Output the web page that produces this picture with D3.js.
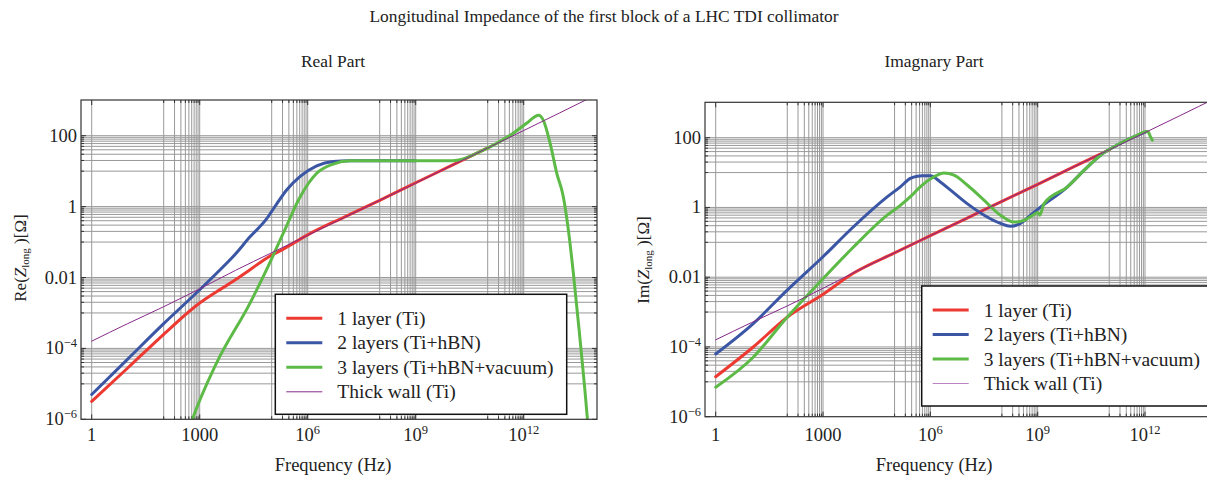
<!DOCTYPE html>
<html><head><meta charset="utf-8">
<script src="https://cdn.jsdelivr.net/npm/d3@7"></script>
<style>
body{margin:0;background:#fff;overflow:hidden}
text{font-family:"Liberation Serif","Times New Roman",serif;fill:#222}
</style>
</head><body>
<svg id="chart" width="1207" height="479"></svg>
<script>
// ---------------- DATA ----------------
const chartTitle = "Longitudinal Impedance of the first block of a LHC TDI collimator";
const panelTitles = ["Real Part", "Imagnary Part"];
const seriesNames = ["1 layer (Ti)", "2 layers (Ti+hBN)", "3 layers (Ti+hBN+vacuum)", "Thick wall (Ti)"];
const xTickValues = [1, 1e3, 1e6, 1e9, 1e12];
const xTickLabels = ["1", "1000", "10^6", "10^9", "10^12"];
const yTickValues = [1e-6, 1e-4, 0.01, 1, 100];
const yTickLabels = ["10^−6", "10^−4", "0.01", "1", "100"];
const xLabel = "Frequency (Hz)";

// [frequency Hz, impedance Ohm]
const thickWall = [[1,1.6e-4],[10,5e-4],[100,1.5e-3],[1e3,4.8e-3],[1e4,0.016],[1e5,0.05],[1e6,0.155],[1e7,0.48],[1e8,1.5],[1e9,4.6],[1e10,14.5],[1e11,45],[1e12,140],[1e13,440],[1e14,1400]];

const reOneLayer = [[1,3.2e-6],[10,2.8e-5],[100,2.5e-4],[1e3,1.9e-3],[3000,4e-3],[8500,7.8e-3],[25000,0.0166],[72000,0.035],[2.1e5,0.063],[1e6,0.16],[1e7,0.5],[1e8,1.5],[1e9,4.7],[1e10,14.5],[1e11,45]];
const reTwoLayers = [[1,5e-6],[10,5e-5],[100,5e-4],[1e3,4.5e-3],[2950,0.0132],[8500,0.039],[25000,0.14],[72000,0.45],[1.38e5,1.2],[2.6e5,2.95],[6.2e5,7.1],[1.78e6,14.1],[5.1e6,18.6],[1.5e7,19.5],[1e9,19.5]];
const reThreeLayers = [[500,5e-7],[630,1e-6],[2950,3.9e-5],[25000,1.9e-3],[72000,0.0166],[2.1e5,0.178],[6.2e5,1.9],[1.78e6,8.7],[5.1e6,15.8],[1.5e7,19.5],[1e10,19.5],[1.7e10,20.9],[6.2e10,35.5],[5.1e11,117],[1.2e12,224],[2.6e12,380],[3.5e12,275],[5.4e12,62],[8.3e12,8.7],[1.26e13,1.9],[1.74e13,0.22],[2.4e13,0.013],[3.6e13,2.2e-4],[5e13,6.9e-6],[5.9e13,1e-6],[6.3e13,5e-7]];

const imOneLayer = [[1,1.4e-5],[11,9.8e-5],[98,7e-4],[980,3.2e-3],[7000,0.013],[1e5,0.05],[1e6,0.155],[1e7,0.48],[1e8,1.5],[1e9,4.6],[1e10,14.5],[1e11,45]];
const imTwoLayers = [[1,6.3e-5],[11,4.6e-4],[98,4.2e-3],[980,0.038],[7000,0.275],[6.2e4,2.0],[1.45e5,3.9],[2.75e5,6.8],[4.3e5,7.9],[6e5,8.1],[1e6,8.1],[1.9e6,5.4],[3.6e6,3.2],[1.07e7,1.29],[3.2e7,0.6],[9.1e7,0.35],[1.74e8,0.29],[3.3e8,0.35],[6.3e8,0.6],[1.2e9,1.02],[6.8e9,3.9],[2e10,11.7],[5.8e10,32],[1.7e11,62],[5e11,107],[1.05e12,148]];
const imThreeLayers = [[1,7e-6],[11,5e-5],[98,7e-4],[980,8.9e-3],[7000,0.072],[6.2e4,0.6],[1.45e5,1.15],[3.4e5,2.5],[5.2e5,3.9],[1.26e6,7.6],[2.4e6,9.8],[4.6e6,8.5],[1.07e7,4.4],[3.2e7,1.6],[9.1e7,0.6],[2.2e8,0.38],[4.2e8,0.43],[7.9e8,0.63],[1e9,0.72],[1.15e9,0.6],[1.5e9,1.29],[6.8e9,3.9],[2e10,11.7],[5.8e10,32],[1.7e11,62],[5e11,107],[1.05e12,148],[1.2e12,150],[1.4e12,110],[1.6e12,85]];

// ---------------- LAYOUT / STYLE ----------------
const colors = ["#ec3a32", "#3a56a5", "#5dba47", "#862a8a"];
const widths = [3, 3, 3, 1];
const panels = [
  {x0:81, x1:597, y0:100, y1:419.3, xr:[91.7,523.7], yr:[419.3,135.7], titleX:333, yLab:"Re", yLabX:22, yLabY:258,
   series:[reOneLayer, reTwoLayers, reThreeLayers, thickWall], legend:{x:275.3, y:294.3, w:291.4, h:120}, thickLegend:"#862a8a"},
  {x0:705, x1:1218, y0:102.3, y1:416.7, xr:[715.7,1145], yr:[416.7,137.7], titleX:934, yLab:"Im", yLabX:645, yLabY:260,
   series:[imOneLayer, imTwoLayers, imThreeLayers, thickWall], legend:{x:921.7, y:286, w:300, h:120}, thickLegend:"#b883c0"}
];

const svg = d3.select("#chart").attr("font-family", "'Liberation Serif', 'Times New Roman', serif");
svg.append("text").attr("x", 604).attr("y", 22).attr("text-anchor","middle").style("font-size","17.4px").text(chartTitle);

function powLabel(sel, label, supSize) {
  const parts = label.split("^");
  sel.append("tspan").text(parts[0]);
  if (parts.length > 1) sel.append("tspan").attr("dy", -7).style("font-size", supSize).text(parts[1]);
}

panels.forEach((p, pi) => {
  const x = d3.scaleLog().domain([1, 1e12]).range(p.xr);
  const y = d3.scaleLog().domain([1e-6, 100]).range(p.yr);
  const g = svg.append("g");
  const clipId = "clip" + pi;
  svg.append("clipPath").attr("id", clipId).append("rect")
    .attr("x", p.x0).attr("y", p.y0).attr("width", p.x1 - p.x0).attr("height", p.y1 - p.y0);

  const xGrid = [{v:1, major:true}];
  xTickValues.slice(1).forEach(m => { for (let k = 1; k <= 10; k++) xGrid.push({v: k * m / 10, major: k === 10}); });
  const yGrid = [];
  yTickValues.slice(1).forEach(m => { for (let k = 1; k <= 10; k++) yGrid.push({v: k * m / 10, major: k === 10}); });

  const grid = g.append("g").attr("clip-path", `url(#${clipId})`);
  grid.selectAll(".vx").data(xGrid).join("line")
    .attr("x1", d => x(d.v)).attr("x2", d => x(d.v)).attr("y1", p.y0).attr("y2", p.y1)
    .attr("stroke", "#999").attr("stroke-width", 1);
  grid.selectAll(".hy").data(yGrid).join("line")
    .attr("y1", d => y(d.v)).attr("y2", d => y(d.v)).attr("x1", p.x0).attr("x2", p.x1)
    .attr("stroke", "#999").attr("stroke-width", 1);

  const tk = g.append("g").attr("stroke", "#333").attr("stroke-width", 1);
  xGrid.forEach(d => {
    const L = d.major ? 5 : 3, xx = x(d.v);
    tk.append("line").attr("x1", xx).attr("x2", xx).attr("y1", p.y1).attr("y2", p.y1 - L);
    tk.append("line").attr("x1", xx).attr("x2", xx).attr("y1", p.y0).attr("y2", p.y0 + L);
  });
  yGrid.concat([{v:1e-6, major:true}]).forEach(d => {
    const L = d.major ? 5 : 3, yy = y(d.v);
    tk.append("line").attr("y1", yy).attr("y2", yy).attr("x1", p.x0).attr("x2", p.x0 + L);
    tk.append("line").attr("y1", yy).attr("y2", yy).attr("x1", p.x1).attr("x2", p.x1 - L);
  });

  const line = d3.line().x(d => x(d[0])).y(d => y(d[1])).curve(d3.curveMonotoneX);
  const cg = g.append("g").attr("clip-path", `url(#${clipId})`);
  p.series.forEach((s, i) => {
    cg.append("path").datum(s).attr("d", line).attr("fill", "none")
      .attr("stroke", colors[i]).attr("stroke-width", widths[i])
      .attr("stroke-linejoin", "round").attr("stroke-linecap", "round");
  });

  g.append("rect").attr("x", p.x0).attr("y", p.y0).attr("width", p.x1 - p.x0).attr("height", p.y1 - p.y0)
    .attr("fill", "none").attr("stroke", "#333").attr("stroke-width", 1.2);

  xTickValues.forEach((v, i) => {
    const t = g.append("text").attr("x", x(v)).attr("y", 441).attr("text-anchor", "middle").style("font-size", "18.5px");
    powLabel(t, xTickLabels[i], "12.5px");
  });
  yTickValues.forEach((v, i) => {
    const t = g.append("text").attr("x", p.x0 - 4).attr("y", y(v) + 6).attr("text-anchor", "end").style("font-size", "18.5px");
    powLabel(t, yTickLabels[i], "12.5px");
  });

  g.append("text").attr("x", p.titleX).attr("y", 67).attr("text-anchor", "middle").style("font-size", "17.4px").text(panelTitles[pi]);
  g.append("text").attr("x", p.titleX).attr("y", 471).attr("text-anchor", "middle").style("font-size", "18.5px").text(xLabel);
  const yl = g.append("text").attr("transform", `translate(${p.yLabX},${p.yLabY}) rotate(-90)`)
    .attr("text-anchor", "middle").attr("dominant-baseline", "middle").style("font-size", "17px");
  yl.append("tspan").text(p.yLab + "(");
  yl.append("tspan").style("font-style", "italic").text("Z");
  yl.append("tspan").attr("dy", 4).style("font-size", "11px").text("long");
  yl.append("tspan").attr("dy", -4).text(" )[Ω]");

  const L = p.legend;
  const lg = g.append("g");
  lg.append("rect").attr("x", L.x).attr("y", L.y).attr("width", L.w).attr("height", L.h)
    .attr("fill", "#fff").attr("stroke", "#111").attr("stroke-width", 1.5);
  const rows = [24, 48.5, 73, 97.5];
  seriesNames.forEach((n, i) => {
    const yy = L.y + rows[i];
    lg.append("line").attr("x1", L.x + 11).attr("x2", L.x + 47).attr("y1", yy).attr("y2", yy)
      .attr("stroke", i === 3 ? p.thickLegend : colors[i]).attr("stroke-width", widths[i]);
    lg.append("text").attr("x", L.x + 62).attr("y", yy + 6.5).style("font-size", "19.5px").text(n);
  });
});
</script>
</body></html>
